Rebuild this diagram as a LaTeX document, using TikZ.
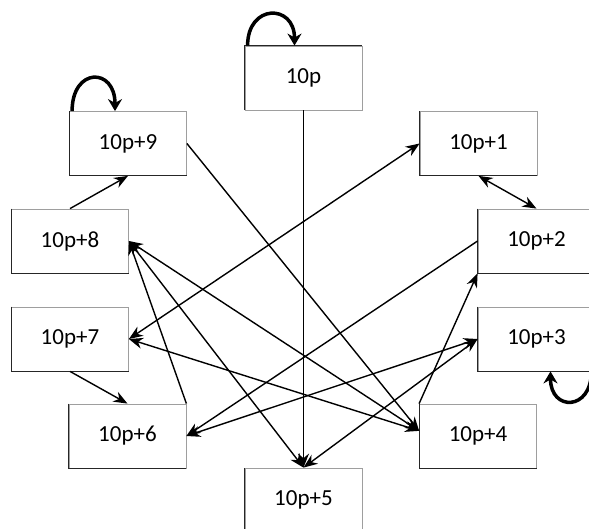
\documentclass[tikz,border=0pt]{standalone}
\usepackage{fontspec}
\setmainfont{Carlito}
\usetikzlibrary{positioning,arrows.meta}
\definecolor{box-gray}{gray}{0.62}

\begin{document}
\begin{tikzpicture}[x=1pt,y=-1pt,
	numbox/.style={draw=box-gray,line width=0.8pt,minimum width=117pt,minimum height=64pt,inner sep=0pt,font=\fontsize{23}{27}\selectfont},
	darkedge/.style={draw=black!85,line width=1pt},
	link/.style={line width=1.4pt,-{Stealth[length=14pt,width=11pt]}},
	twoway/.style={line width=1.4pt,{Stealth[length=14pt,width=11pt]}-{Stealth[length=14pt,width=11pt]}},
	selfloop/.style={line width=3.5pt,-{Stealth[length=12pt,width=14pt]}}]
	\useasboundingbox (0,0) rectangle (589,529);
	
	% boxes
	\node[numbox] (n0) at (303.5,78) {10p};
	\node[numbox] (n9) at (128,143.5) {10p+9};
	\node[numbox] (n1) at (478.5,143.5) {10p+1};
	\node[numbox] (n8) at (70,241) {10p+8};
	\node[numbox] (n2) at (536.5,241) {10p+2};
	\node[numbox] (n7) at (70,339) {10p+7};
	\node[numbox] (n3) at (536.5,339) {10p+3};
	\node[numbox] (n6) at (127.5,436) {10p+6};
	\node[numbox] (n4) at (478,436) {10p+4};
	\node[numbox] (n5) at (303.5,500) {10p+5};
	
	% darker sides
	\foreach \b in {n9,n1,n8,n2,n7,n3,n6,n4}
		\draw[darkedge] (\b.north west) -- (\b.south west) -- (\b.south east);
	\draw[darkedge] (n0.south west) -- (n0.north west) -- (n0.north east);
	\draw[darkedge] (n5.south west) -- (n5.north west);
	
	% self loops
	\draw[selfloop] ([xshift=3pt]n0.north west) .. controls +(0,-42) and +(0,-42) .. ([xshift=-9pt]n0.north);
	\draw[selfloop] ([xshift=3pt]n9.north west) .. controls +(0,-44) and +(0,-44) .. ([xshift=-13pt]n9.north);
	\draw[selfloop] ([xshift=-4pt]n3.south east) .. controls +(0,40) and +(0,40) .. ([xshift=14pt]n3.south);
	
	% neighbours
	\draw[link] (n8.north) -- (n9.south);
	\draw[link] (n7.south) -- (n6.north);
	\draw[twoway] (n1.south) -- (n2.north);
	
	% cross links
	\draw[link] (n0.south) -- (n5.north);
	\draw[link] (n9.east) -- (n4.175);
	\draw[twoway] (n8.east) -- (n4.175);
	\draw[twoway] (n7.east) -- (n4.175);
	\draw[twoway] (n8.east) -- (n5.north);
	\draw[link] (n6.north east) -- (n8.east);
	\draw[twoway] (n1.west) -- (n7.east);
	\draw[link] (n2.west) -- (n6.east);
	\draw[twoway] (n6.east) -- (n3.west);
	\draw[twoway] (n5.north) -- (n3.west);
	\draw[link] (n4.north west) -- (n2.south west);
\end{tikzpicture}
\end{document}
